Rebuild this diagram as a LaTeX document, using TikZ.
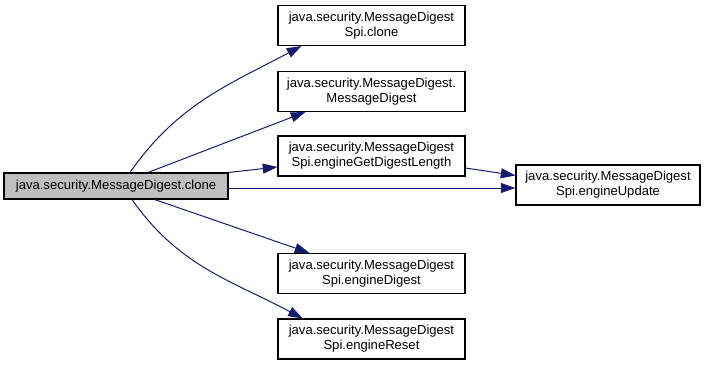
\documentclass[tikz,border=0pt]{standalone}
\usepackage{fontspec}
\setmainfont{Liberation Sans}
\usepackage{xcolor}
\definecolor{midnight}{rgb}{0.1, 0.1, 0.44}
\definecolor{callergray}{rgb}{0.75, 0.75, 0.75}
\usetikzlibrary{arrows.meta}

\tikzset{
	fn/.style = {draw, rectangle, thick, align=center, inner sep=1pt, minimum width=140.25pt, minimum height=30pt, font=\fontsize{9.8}{11.3}\selectfont},
	call/.style = {midnight, line width=0.75pt, -{Triangle[length=11pt, width=7.5pt]}}
}

\begin{document}
\begin{tikzpicture}
			\useasboundingbox (-87pt,-134.25pt) rectangle (444.75pt,139.5pt);
			\node[fn, minimum width=168pt, minimum height=19.5pt, fill = callergray] (n0){java.security.MessageDigest.clone};
			\node[fn, xshift = 191.6pt, yshift = 120.4pt] (n1){java.security.MessageDigest\\Spi.clone};
			\node[fn, xshift = 191.6pt, yshift = 70.9pt] (n2){java.security.MessageDigest.\\MessageDigest};
			\node[fn, xshift = 191.6pt, yshift = 22.5pt] (n3){java.security.MessageDigest\\Spi.engineGetDigestLength};
			\node[fn, minimum width=138pt, xshift = 369pt, yshift = 0.75pt] (n4){java.security.MessageDigest\\Spi.engineUpdate};
			\node[fn, xshift = 191.6pt, yshift = -65.6pt] (n5){java.security.MessageDigest\\Spi.engineDigest};
			\node[fn, xshift = 191.6pt, yshift = -114.75pt] (n6){java.security.MessageDigest\\Spi.engineReset};
			
			\draw[call] ([xshift=10.5pt]n0.north) to[out=55, in=208] ([xshift=18pt]n1.south west);
			\draw[call] ([xshift=24pt]n0.north) -- ([xshift=21pt]n2.south west);
			\draw[call] (n0.north east) -- ([yshift=-8.25pt]n3.west);
			\draw[call] ([yshift=-1.5pt]n0.east) -- ([yshift=-2.25pt]n4.west);
			\draw[call] ([yshift=-9pt]n3.east) -- ([yshift=-8.25pt]n4.north west);
			\draw[call] ([xshift=29pt]n0.south) -- ([xshift=24pt]n5.north west);
			\draw[call] ([xshift=12pt]n0.south) to[out=-55, in=152] ([xshift=19pt]n6.north west);
			
			\end{tikzpicture}
\end{document}
